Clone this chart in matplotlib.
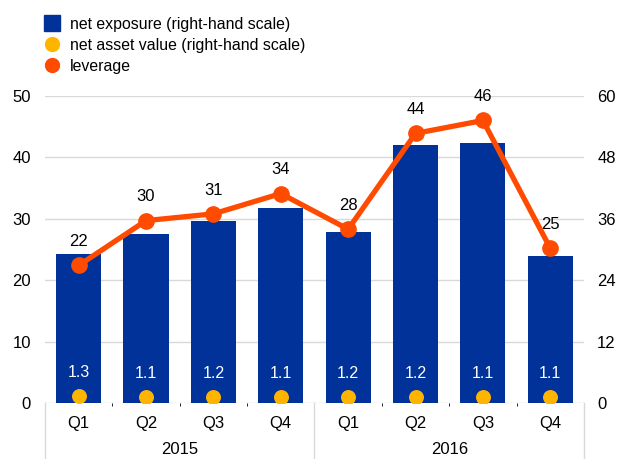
import matplotlib.pyplot as plt
from matplotlib.lines import Line2D
import numpy as np

quarters = ['Q1', 'Q2', 'Q3', 'Q4', 'Q1', 'Q2', 'Q3', 'Q4']
years = ['2015', '2016']
net_exposure = [29.1, 33.0, 35.6, 38.2, 33.4, 50.4, 50.9, 28.7]   # right-hand scale
nav = [1.3, 1.1, 1.2, 1.1, 1.2, 1.2, 1.1, 1.1]                    # right-hand scale
leverage = [22.4, 29.7, 30.8, 34.1, 28.3, 43.9, 46.0, 25.2]       # left-hand scale

blue = '#003299'
yellow = '#FFB400'
orange = '#FF4B00'
grid = '#D9D9D9'

plt.rcParams['font.family'] = ['Liberation Sans', 'DejaVu Sans']

fig = plt.figure(figsize=(6.17, 4.59), dpi=100)
ax = fig.add_axes([0.0729, 0.122, 0.8736, 0.669])
ax2 = ax.twinx()
ax.set_zorder(ax2.get_zorder() + 1)
ax.patch.set_visible(False)

x = np.arange(len(quarters))

# right-hand scale: bars and nav dots
ax2.bar(x, net_exposure, width=0.67, color=blue, zorder=2)
ax2.scatter(x, nav, s=95, color=yellow, zorder=3)
for xi, v in zip(x, nav):
    ax2.annotate(f'{v:.1f}', (xi, v), xytext=(0, 17), textcoords='offset points',
                 ha='center', va='center', color='white', fontsize=11.5, zorder=4)
ax2.set_ylim(0, 60)
ax2.set_yticks(range(0, 61, 12))
ax2.set_xticks(np.arange(-0.5, 8, 1), minor=True)
ax2.grid(True, which='major', axis='y', color=grid, lw=1, zorder=0)
ax2.grid(True, which='minor', axis='x', color=grid, lw=1, zorder=0)

# left-hand scale: leverage
ax.plot(x, leverage, color=orange, lw=3.8, marker='o', ms=11, zorder=5)
for xi, v in zip(x, leverage):
    ax.annotate(f'{round(v)}', (xi, v), xytext=(0, 17), textcoords='offset points',
                ha='center', va='center', color='black', fontsize=12)
ax.set_ylim(0, 50)
ax.set_yticks(range(0, 51, 10))
ax.set_xlim(-0.5, 7.5)
ax.set_xticks(x)
ax.set_xticklabels(quarters)

for a in (ax, ax2):
    for s in a.spines.values():
        s.set_visible(False)
    a.tick_params(length=0, labelsize=12, colors='black')
ax.tick_params(axis='x', pad=9)
ax.tick_params(axis='y', pad=10)
ax2.tick_params(axis='y', pad=9.5)

# year labels and separators
for i, yr in enumerate(years):
    ax.text(1.5 + 4 * i, -0.152, yr, transform=ax.get_xaxis_transform(),
            ha='center', va='center', fontsize=12)
for xs in [-0.5, 3.5, 7.5]:
    ax.plot([xs, xs], [0, -0.183], transform=ax.get_xaxis_transform(),
            color=grid, lw=1, clip_on=False)

handles = [
    Line2D([], [], ls='none', marker='s', ms=11, color=blue),
    Line2D([], [], ls='none', marker='o', ms=10, color=yellow),
    Line2D([], [], ls='none', marker='o', ms=10, color=orange),
]
labels = ['net exposure (right-hand scale)', 'net asset value (right-hand scale)', 'leverage']
fig.legend(handles, labels, loc='upper left', bbox_to_anchor=(0.045, 0.995),
           frameon=False, fontsize=11.4, handletextpad=0.55, labelspacing=0.38,
           handlelength=1.2)

fig.savefig('out.png', dpi=100)
